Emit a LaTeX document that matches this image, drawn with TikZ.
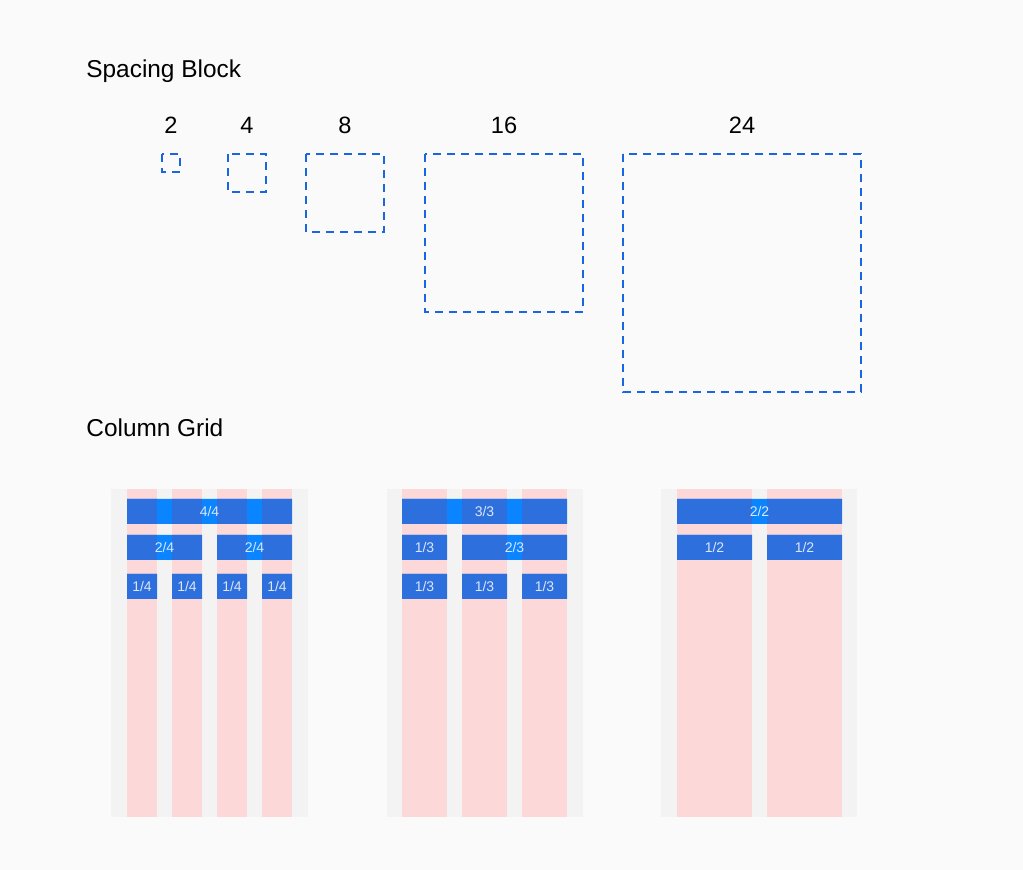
\documentclass[tikz,border=0pt]{standalone}
\usepackage{fontspec}
\setmainfont{Liberation Sans}
\definecolor{pagebg}{HTML}{FAFAFA}
\definecolor{gridbg}{HTML}{F3F3F3}
\definecolor{colpink}{HTML}{FCD8D8}
\definecolor{dashblue}{HTML}{1A66E0}
\definecolor{barblue}{HTML}{2D6FDC}
\definecolor{gapblue}{HTML}{0A84FF}
\definecolor{bartext}{HTML}{DDE6F6}
\tikzset{
  spacebox/.style={draw=dashblue, line width=1pt, dash pattern=on 4pt off 3pt},
  heading/.style={anchor=west, inner sep=0pt, font=\fontsize{12.2}{14}\selectfont},
  sizelabel/.style={inner sep=0pt, font=\fontsize{11.8}{13}\selectfont},
  barlabel/.style={inner sep=0pt, text=bartext, font=\fontsize{7}{8}\selectfont},
}
\begin{document}
\begin{tikzpicture}[x=0.5pt,y=-0.5pt]
    \fill[pagebg] (0,0) rectangle (1023,870);
    %% spacing blocks
    \node[heading] (spacing) at (86,71) {Spacing Block};
    \foreach \s/\x/\w in {2/162/18, 4/228/38, 8/306/78, 16/425/158, 24/623/238}{
        \draw[spacebox] (\x,154) rectangle ++(\w,\w);
        \node[sizelabel] (size\s) at (\x+\w/2,125) {\s};
    }
    %% column grids
    \node[heading] (columns) at (86,428) {Column Grid};
    \fill[gridbg] (111,489) rectangle (308,817);
    \fill[gridbg] (387,489) rectangle (583,817);
    \fill[gridbg] (661,489) rectangle (857,817);
    \foreach \x in {127,172,217,262} \fill[colpink] (\x,489) rectangle ++(30,328);
    \foreach \x in {402,462,522} \fill[colpink] (\x,489) rectangle ++(45,328);
    \foreach \x in {677,767} \fill[colpink] (\x,489) rectangle ++(75,328);
    %% bars: bright over the gutters, darker over the columns
    \def\bars{(127,499) rectangle (292,524)
        (127,535) rectangle (202,560) (217,535) rectangle (292,560)
        (127,574) rectangle (157,599) (172,574) rectangle (202,599)
        (217,574) rectangle (247,599) (262,574) rectangle (292,599)
        (402,499) rectangle (567,524)
        (402,535) rectangle (447,560) (462,535) rectangle (567,560)
        (402,574) rectangle (447,599) (462,574) rectangle (507,599)
        (522,574) rectangle (567,599)
        (677,499) rectangle (842,524)
        (677,535) rectangle (752,560) (767,535) rectangle (842,560)}
    \fill[gapblue] \bars;
    \begin{scope}
        \clip \bars;
        \foreach \x in {127,172,217,262} \fill[barblue] (\x,489) rectangle ++(30,120);
        \foreach \x in {402,462,522} \fill[barblue] (\x,489) rectangle ++(45,120);
        \foreach \x in {677,767} \fill[barblue] (\x,489) rectangle ++(75,120);
    \end{scope}
    %% labels of the bars
    \node[barlabel] (q44) at (209.5,511.5) {4/4};
    \node[barlabel] (q24a) at (164.5,547.5) {2/4};
    \node[barlabel] (q24b) at (254.5,547.5) {2/4};
    \foreach \x [count=\i] in {142,187,232,277} \node[barlabel] (q14\i) at (\x,586.5) {1/4};
    \node[barlabel] (t33) at (484.5,511.5) {3/3};
    \node[barlabel] (t13) at (424.5,547.5) {1/3};
    \node[barlabel] (t23) at (514.5,547.5) {2/3};
    \foreach \x [count=\i] in {424.5,484.5,544.5} \node[barlabel] (t13\i) at (\x,586.5) {1/3};
    \node[barlabel] (h22) at (759.5,511.5) {2/2};
    \node[barlabel] (h12a) at (714.5,547.5) {1/2};
    \node[barlabel] (h12b) at (804.5,547.5) {1/2};
\end{tikzpicture}
\end{document}
